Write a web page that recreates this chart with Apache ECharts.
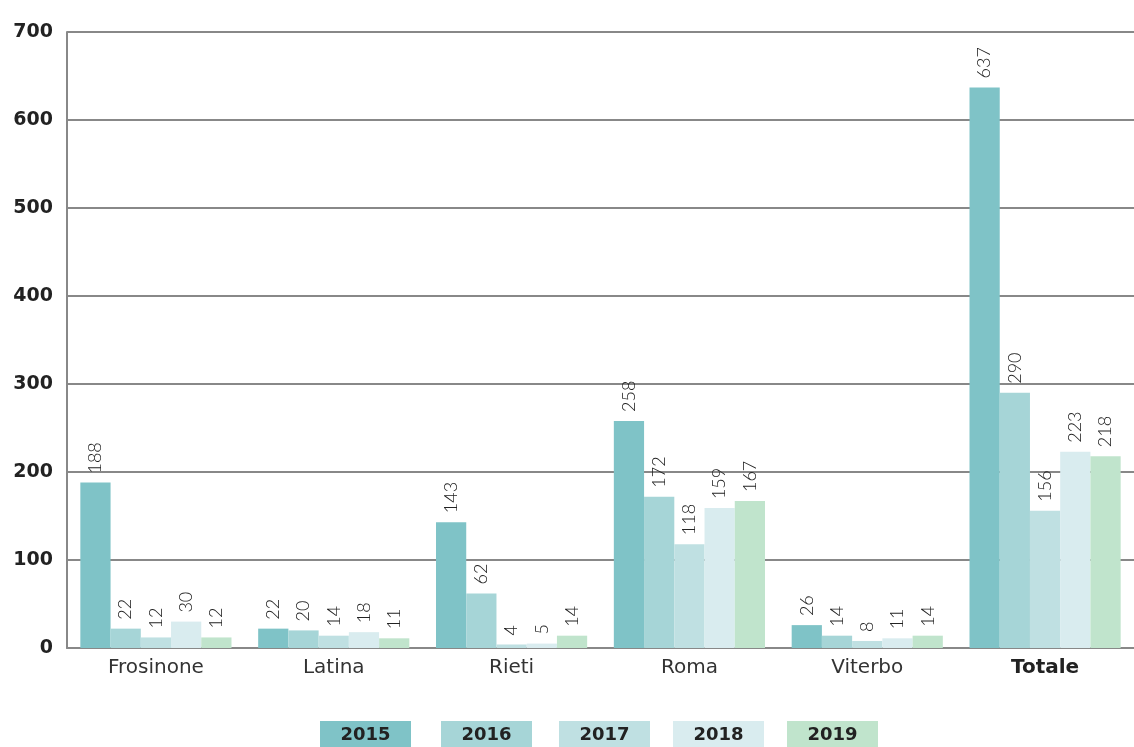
<!DOCTYPE html>
<html><head><meta charset="utf-8">
<script src="https://cdn.jsdelivr.net/npm/echarts@6/dist/echarts.min.js"></script>
<style>html,body{margin:0;padding:0;background:#fff}#c{width:1134px;height:747px}</style>
</head><body><div id="c"></div>
<script>
const categories = ['Frosinone','Latina','Rieti','Roma','Viterbo','Totale'];
const years = ['2015','2016','2017','2018','2019'];
const v2015 = [188, 22, 143, 258, 26, 637];
const v2016 = [22, 20, 62, 172, 14, 290];
const v2017 = [12, 14, 4, 118, 8, 156];
const v2018 = [30, 18, 5, 159, 11, 223];
const v2019 = [12, 11, 14, 167, 14, 218];
const yTicks = [0,100,200,300,400,500,600,700];
const colors = ['#7fc3c7','#a6d5d7','#bfe0e2','#d9ecef','#c0e4cc'];
const seriesData = [v2015, v2016, v2017, v2018, v2019];

const chart = echarts.init(document.getElementById('c'), null, {renderer:'canvas'});
const legendX = [320, 441, 559, 673, 787];
const option = {
  animation: false,
  textStyle: {fontFamily: '"DejaVu Sans", sans-serif'},
  grid: {left: 67, right: 0, top: 32, bottom: 99, containLabel: false},
  xAxis: {
    type: 'category', data: categories,
    axisLine: {show: true, lineStyle: {color: '#888', width: 2}},
    axisTick: {show: false},
    axisLabel: {
      fontSize: 20, color: '#333', margin: 10,
      fontFamily: '"DejaVu Sans", sans-serif',
      formatter: function(v){ return v === 'Totale' ? '{b|' + v + '}' : v; },
      rich: {b: {fontWeight: 'bold', fontSize: 20, color: '#222', fontFamily: '"DejaVu Sans", sans-serif'}}
    }
  },
  yAxis: {
    type: 'value', min: yTicks[0], max: yTicks[yTicks.length-1], interval: 100,
    axisLine: {show: true, lineStyle: {color: '#888', width: 2}},
    axisTick: {show: false},
    splitLine: {lineStyle: {color: '#888', width: 2}},
    axisLabel: {fontSize: 19, fontWeight: 'bold', color: '#222', margin: 14, fontFamily: '"DejaVu Sans", sans-serif'}
  },
  series: years.map((y, i) => ({
    name: y, type: 'bar', data: seriesData[i],
    barGap: '0%', barCategoryGap: '15%',
    itemStyle: {color: colors[i]},
    label: {
      show: true, position: 'top', rotate: 90, align: 'left', verticalAlign: 'middle',
      distance: 9, fontSize: 18, fontWeight: 300, color: '#222', fontFamily: 'Lato, sans-serif'
    }
  })),
  graphic: years.map((y, i) => ({
    type: 'group', left: legendX[i], top: 721,
    children: [
      {type: 'rect', shape: {x: 0, y: 0, width: 91, height: 28}, style: {fill: colors[i]}},
      {type: 'text', x: 45.5, y: 14, style: {text: y, fill: '#222', font: 'bold 18px "DejaVu Sans", sans-serif', textAlign: 'center', textVerticalAlign: 'middle'}}
    ]
  }))
};
chart.setOption(option);
</script></body></html>
